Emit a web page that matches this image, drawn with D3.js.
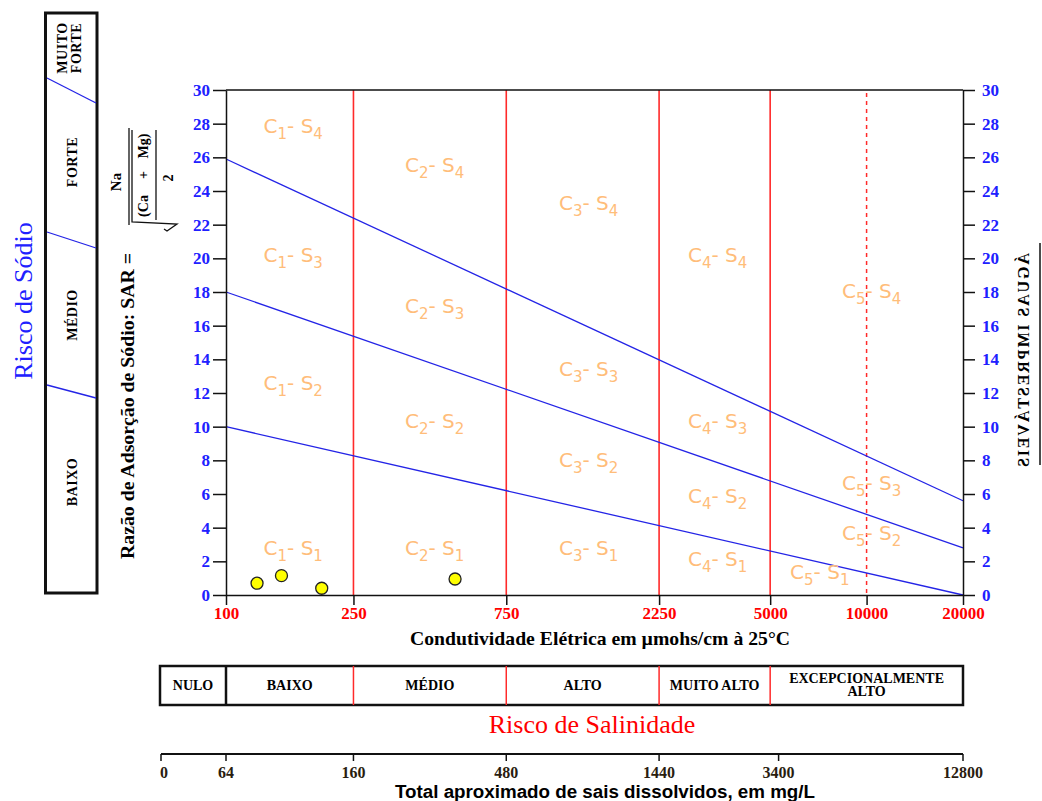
<!DOCTYPE html>
<html>
<head>
<meta charset="utf-8">
<script src="https://cdn.jsdelivr.net/npm/d3@7"></script>
<style>
body { margin: 0; background: #fff; }
svg { display: block; }
</style>
</head>
<body>
<svg id="chart"></svg>
<script>

// condutividade (µmohs/cm) e SAR
const ecTicks = [100, 250, 750, 2250, 5000, 10000, 20000]
const sarTicks = [0, 2, 4, 6, 8, 10, 12, 14, 16, 18, 20, 22, 24, 26, 28, 30]
const classLimits = [250, 750, 2250, 5000]
const dashedLimits = [10000]

// SAR das fronteiras S1/S2, S2/S3, S3/S4 em EC = 100 e EC = 20000
const sodiumLines = [[10, 0], [18, 2.8], [25.9, 5.6]]

// amostras [EC, SAR]
const samples = [[125, 0.7], [149, 1.15], [199, 0.4], [519, 0.95]]

// rótulos das classes [C, S, EC, SAR]
const regionLabels = [
	[1, 4, 131, 27.45], [2, 4, 362, 25.1], [3, 4, 1096, 22.9], [4, 4, 2770, 19.8], [5, 4, 8380, 17.64],
	[1, 3, 131, 19.8], [2, 3, 362, 16.75], [3, 3, 1096, 13.0], [4, 3, 2770, 9.92], [5, 3, 8380, 6.24],
	[1, 2, 131, 12.2], [2, 2, 362, 9.9], [3, 2, 1096, 7.6], [4, 2, 2770, 5.47], [5, 2, 8380, 3.27],
	[1, 1, 131, 2.38], [2, 1, 362, 2.38], [3, 1, 1096, 2.38], [4, 1, 2770, 1.72], [5, 1, 5770, 0.95]
]

const salinityClasses = ['NULO', 'BAIXO', 'MÉDIO', 'ALTO', 'MUITO ALTO', 'EXCEPCIONALMENTE ALTO']
const salinityEdges = [null, 100, 250, 750, 2250, 5000, 20000]
const tdsTicks = [0, 64, 160, 480, 1440, 3400, 12800]
const sodiumClasses = [['MUITO', 'FORTE'], ['FORTE'], ['MÉDIO'], ['BAIXO']]

let width = 1042, height = 801
let serif = "'Liberation Serif', 'Times New Roman', serif"
let sans = "'DejaVu Sans', sans-serif"
let blue = '#2020ff', red = '#ff2a2a', orange = '#ffbd7a'

let svg = d3.select('#chart')
	.attr('width', width)
	.attr('height', height)

let pLeft = 226, pRight = 963, pTop = 90, pBottom = 595

let x = d3.scaleLog()
	.domain([100, 20000])
	.range([pLeft, pRight])

let y = d3.scaleLinear()
	.domain([0, 30])
	.range([pBottom, pTop])

// linhas verticais de salinidade
svg.append('g')
	.selectAll('line')
	.data(classLimits).enter().append('line')
	.attr('x1', d => x(d)).attr('x2', d => x(d))
	.attr('y1', pTop).attr('y2', pBottom)
	.attr('stroke', red).attr('stroke-width', 1.6)

svg.append('g')
	.selectAll('line')
	.data(dashedLimits).enter().append('line')
	.attr('x1', d => x(d)).attr('x2', d => x(d))
	.attr('y1', pTop + 3).attr('y2', pBottom)
	.attr('stroke', red).attr('stroke-width', 1.5)
	.attr('stroke-dasharray', '4,4')

// fronteiras de sódio
let line = d3.line().x(d => x(d[0])).y(d => y(d[1]))
svg.append('g')
	.selectAll('path')
	.data(sodiumLines).enter().append('path')
	.attr('d', d => line([[100, d[0]], [20000, d[1]]]))
	.attr('fill', 'none')
	.attr('stroke', '#2424e6').attr('stroke-width', 1.3)

// rótulos C-S
let labels = svg.append('g')
	.attr('fill', orange)
	.attr('font-family', sans)
	.attr('font-size', 20)

regionLabels.forEach(([c, s, ec, sar]) => {
	let t = labels.append('text').attr('x', x(ec)).attr('y', y(sar))
	t.append('tspan').text('C')
	t.append('tspan').attr('dy', 6).attr('font-size', 15).text(c)
	t.append('tspan').attr('dy', -6).text('- S')
	t.append('tspan').attr('dy', 6).attr('font-size', 15).text(s)
})

// moldura
svg.append('line')
	.attr('x1', pLeft).attr('x2', pRight).attr('y1', pTop).attr('y2', pTop)
	.attr('stroke', '#111').attr('stroke-width', 1.5)

const styleAxis = (g, color) => {
	g.attr('font-family', serif).attr('font-size', 17).attr('font-weight', 'bold')
	g.selectAll('text').attr('fill', color)
	g.selectAll('line').attr('stroke', '#111').attr('stroke-width', 1.5)
	g.select('.domain').attr('stroke', '#111').attr('stroke-width', 1.5)
}

svg.append('g')
	.attr('transform', `translate(${pLeft}, 0)`)
	.call(d3.axisLeft(y).tickValues(sarTicks).tickSize(13).tickSizeOuter(0).tickPadding(3))
	.call(g => styleAxis(g, blue))

svg.append('g')
	.attr('transform', `translate(${pRight}, 0)`)
	.call(d3.axisRight(y).tickValues(sarTicks).tickSize(12).tickSizeOuter(0).tickPadding(7))
	.call(g => styleAxis(g, blue))

svg.append('g')
	.attr('transform', `translate(0, ${pBottom})`)
	.call(d3.axisBottom(x).tickValues(ecTicks).tickFormat(d3.format('d')).tickSize(10).tickSizeOuter(0).tickPadding(2))
	.call(g => styleAxis(g, '#ff0000'))

// amostras
svg.append('g')
	.selectAll('circle')
	.data(samples).enter().append('circle')
	.attr('cx', d => x(d[0]))
	.attr('cy', d => y(d[1]))
	.attr('r', 6)
	.attr('fill', '#ffff00')
	.attr('stroke', '#222').attr('stroke-width', 1.3)

// títulos dos eixos
svg.append('text')
	.attr('x', 600).attr('y', 645)
	.attr('text-anchor', 'middle')
	.attr('font-family', serif).attr('font-size', 19).attr('font-weight', 'bold')
	.attr('textLength', 380).attr('lengthAdjust', 'spacingAndGlyphs')
	.text('Condutividade Elétrica em µmohs/cm à 25°C')

svg.append('text')
	.attr('transform', 'translate(134, 406) rotate(-90)')
	.attr('text-anchor', 'middle')
	.attr('font-family', serif).attr('font-size', 19).attr('font-weight', 'bold')
	.attr('textLength', 306).attr('lengthAdjust', 'spacingAndGlyphs')
	.text('Razão de Adsorção de Sódio: SAR =')

// fórmula Na / sqrt((Ca + Mg)/2)
let f = svg.append('g')
	.attr('transform', 'translate(100, 180) rotate(-90)')
	.attr('font-family', serif).attr('font-weight', 'bold')
	.attr('stroke-width', 1.3)

f.append('text').attr('x', -2).attr('y', 21).attr('text-anchor', 'middle')
	.attr('font-size', 15).text('Na')
f.append('line').attr('x1', -45).attr('x2', 52).attr('y1', 29).attr('y2', 29).attr('stroke', '#111')
f.append('path')
	.attr('d', 'M50,32 L-42,32 L-44,77 L-51,67 L-49,64')
	.attr('fill', 'none').attr('stroke', '#111')
let inner = [['(Ca', -26], ['+', 5], ['Mg)', 34]]
inner.forEach(([s, u]) => {
	f.append('text').attr('x', u).attr('y', 48).attr('text-anchor', 'middle')
		.attr('font-size', 14).text(s)
})
f.append('line').attr('x1', -40).attr('x2', 50).attr('y1', 56).attr('y2', 56).attr('stroke', '#111')
f.append('text').attr('x', 2).attr('y', 73).attr('text-anchor', 'middle')
	.attr('font-size', 14).text('2')

// Risco de Sódio
svg.append('text')
	.attr('transform', 'translate(32, 301) rotate(-90)')
	.attr('text-anchor', 'middle')
	.attr('font-family', serif).attr('font-size', 26)
	.attr('fill', blue)
	.text('Risco de Sódio')

let box = svg.append('g')
box.append('rect')
	.attr('x', 45.5).attr('y', 13).attr('width', 51.5).attr('height', 580)
	.attr('fill', 'none').attr('stroke', '#111').attr('stroke-width', 3)

let boxCuts = [[78, 103], [232, 248], [385, 398]]
box.selectAll('line')
	.data(boxCuts).enter().append('line')
	.attr('x1', 47).attr('x2', 96)
	.attr('y1', d => d[0]).attr('y2', d => d[1])
	.attr('stroke', '#2424e6').attr('stroke-width', 1.3)

let boxLabelY = [48, 162, 315, 482]
sodiumClasses.forEach((rows, i) => {
	let t = box.append('text')
		.attr('transform', `translate(${rows.length > 1 ? 67 : 77}, ${boxLabelY[i]}) rotate(-90)`)
		.attr('text-anchor', 'middle')
		.attr('font-family', serif).attr('font-size', 14).attr('font-weight', 'bold')
		.attr('letter-spacing', 0.5)
	rows.forEach((r, j) => {
		t.append('tspan').attr('x', 0).attr('dy', j ? 14 : 0).text(r)
	})
})

// Águas imprestáveis
let aguas = svg.append('g')
	.attr('transform', 'translate(1029, 360) rotate(90) scale(1, -1)')
aguas.append('text')
	.attr('text-anchor', 'middle')
	.attr('font-family', serif).attr('font-size', 16).attr('font-weight', 'bold')
	.attr('textLength', 214).attr('lengthAdjust', 'spacing')
	.text('ÁGUAS IMPRESTÁVEIS')
aguas.append('line')
	.attr('x1', -117).attr('x2', 105).attr('y1', 11).attr('y2', 11)
	.attr('stroke', '#111').attr('stroke-width', 1.5)

// tabela de salinidade
let tableLeft = 160, tableTop = 666, tableH = 39
let table = svg.append('g')
let edgeX = d => d === null ? tableLeft : x(d)

table.append('rect')
	.attr('x', tableLeft).attr('y', tableTop)
	.attr('width', x(20000) - tableLeft).attr('height', tableH)
	.attr('fill', 'none').attr('stroke', '#111').attr('stroke-width', 2.5)

table.selectAll('line')
	.data(salinityEdges.slice(1, -1)).enter().append('line')
	.attr('x1', d => edgeX(d)).attr('x2', d => edgeX(d))
	.attr('y1', tableTop).attr('y2', tableTop + tableH)
	.attr('stroke', (d, i) => i == 0 ? '#111' : red)
	.attr('stroke-width', (d, i) => i == 0 ? 2.5 : 1.5)

salinityClasses.forEach((name, i) => {
	let cx = (edgeX(salinityEdges[i]) + edgeX(salinityEdges[i + 1])) / 2
	let words = name == 'EXCEPCIONALMENTE ALTO' ? ['EXCEPCIONALMENTE', 'ALTO'] : [name]
	let t = table.append('text')
		.attr('x', cx)
		.attr('y', words.length > 1 ? 683 : 690)
		.attr('text-anchor', 'middle')
		.attr('font-family', serif).attr('font-size', 14).attr('font-weight', 'bold')
	words.forEach((w, j) => t.append('tspan').attr('x', cx).attr('dy', j ? 13 : 0).text(w))
})

svg.append('text')
	.attr('x', 592).attr('y', 733)
	.attr('text-anchor', 'middle')
	.attr('font-family', serif).attr('font-size', 26)
	.attr('fill', '#ff0000')
	.text('Risco de Salinidade')

// sólidos totais dissolvidos (mg/L) = 0.64 * EC
let xTds = d3.scaleLog()
	.domain([64, 12800])
	.range([x(100), x(20000)])
let tdsX = d => d === 0 ? tableLeft + 1 : xTds(d)

let tds = svg.append('g')
tds.append('line')
	.attr('x1', tableLeft + 1).attr('x2', x(20000))
	.attr('y1', 754).attr('y2', 754)
	.attr('stroke', '#111').attr('stroke-width', 2)
tds.selectAll('.tick')
	.data(tdsTicks).enter().append('line')
	.attr('x1', tdsX).attr('x2', tdsX)
	.attr('y1', 754).attr('y2', 761)
	.attr('stroke', '#111').attr('stroke-width', 1.5)
tds.selectAll('text')
	.data(tdsTicks).enter().append('text')
	.attr('x', d => tdsX(d) + (d === 0 ? 3 : 0))
	.attr('y', 778)
	.attr('text-anchor', 'middle')
	.attr('font-family', serif).attr('font-size', 16).attr('font-weight', 'bold')
	.attr('fill', '#2a1d10')
	.text(d => d)

svg.append('text')
	.attr('x', 605).attr('y', 798)
	.attr('text-anchor', 'middle')
	.attr('font-family', "'Liberation Sans', Arial, sans-serif").attr('font-size', 18).attr('font-weight', 'bold')
	.attr('textLength', 420).attr('lengthAdjust', 'spacingAndGlyphs')
	.text('Total aproximado de sais dissolvidos, em mg/L')

</script>
</body>
</html>
